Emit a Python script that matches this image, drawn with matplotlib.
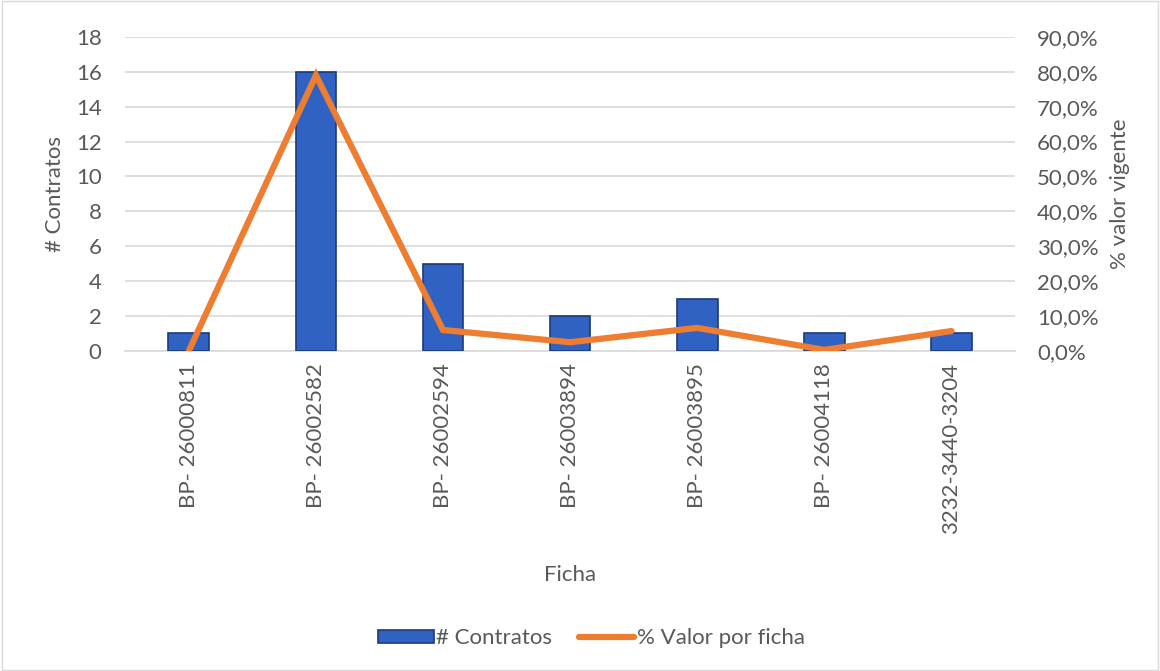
import numpy as np
import matplotlib.pyplot as plt
from matplotlib.ticker import FuncFormatter
from matplotlib.patches import Rectangle

plt.rcParams['font.family'] = ['Lato', 'DejaVu Sans']

fichas = ["BP- 26000811", "BP- 26002582", "BP- 26002594", "BP- 26003894",
          "BP- 26003895", "BP- 26004118", "3232-3440-3204"]
contratos = [1, 16, 5, 2, 3, 1, 1]
pct_valor = [0.0, 79.0, 6.0, 2.5, 6.6, 0.3, 5.7]

grey = "#595959"
fs = 16
fig = plt.figure(figsize=(11.6, 6.71), dpi=100)
ax = fig.add_axes([0.108, 0.477, 0.767, 0.468])
ax2 = ax.twinx()

x = np.arange(len(fichas))
ax.bar(x, contratos, width=0.32, color="#2F62C2", edgecolor="#1C3A78",
       linewidth=1.2, zorder=3, label="# Contratos")
ax2.plot(x, pct_valor, color="#ED7D31", linewidth=4.5, solid_capstyle="round",
         solid_joinstyle="miter", zorder=4, label="% Valor por ficha")

ax.set_xlim(-0.5, len(fichas) - 0.5)
ax.set_ylim(0, 18)
ax.set_yticks(range(0, 19, 2))
ax2.set_ylim(0, 90)
ax2.set_yticks(range(0, 91, 10))
ax2.yaxis.set_major_formatter(FuncFormatter(lambda v, p: f"{v:.1f}%".replace(".", ",")))

ax.grid(axis="y", color="#D9D9D9", linewidth=1.2, zorder=0)
ax.set_axisbelow(True)
ax.set_zorder(ax2.get_zorder() - 1)
ax.patch.set_visible(False)
ax2.set_zorder(1)

for a in (ax, ax2):
    for s in a.spines.values():
        s.set_visible(False)
    a.tick_params(length=0, labelsize=fs, colors=grey)
ax.tick_params(axis="y", pad=17)
ax2.tick_params(axis="y", pad=16)
ax.spines["bottom"].set_visible(True)
ax.spines["bottom"].set_color("#D9D9D9")
ax.spines["bottom"].set_linewidth(1.2)

ax.set_xticks(x)
ax.set_xticklabels(fichas, rotation=90)
ax.tick_params(axis="x", pad=9)

ax.set_xlabel("Ficha", fontsize=fs, color=grey, labelpad=22)
ax.set_ylabel("# Contratos", fontsize=fs, color=grey, labelpad=8)
ax2.set_ylabel("% valor vigente", fontsize=fs, color=grey, labelpad=8)

h1, l1 = ax.get_legend_handles_labels()
h2, l2 = ax2.get_legend_handles_labels()
fig.legend(h1 + h2, l1 + l2, loc="center", bbox_to_anchor=(0.51, 0.049), ncol=2,
           frameon=False, fontsize=fs, labelcolor=grey, handlelength=2.5,
           handleheight=0.5, handletextpad=0.1, columnspacing=1.2)

fig.patches.append(Rectangle((0.002, 0.002), 0.996, 0.996, transform=fig.transFigure,
                             fill=False, edgecolor="#D9D9D9", linewidth=1))

fig.savefig("out.png", dpi=100)
